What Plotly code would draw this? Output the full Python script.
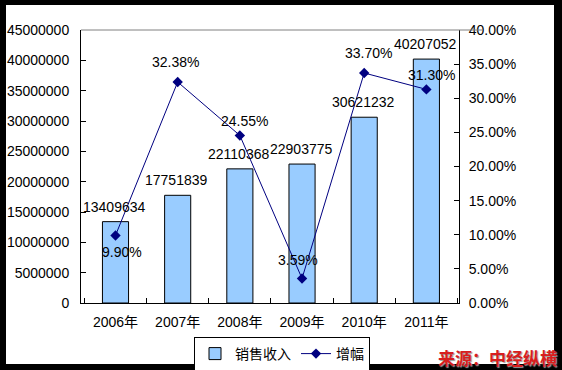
import plotly.graph_objects as go
from plotly.subplots import make_subplots

# ---- data ----
years = ["2006年", "2007年", "2008年", "2009年", "2010年", "2011年"]
revenue = [13409634, 17751839, 22110368, 22903775, 30621232, 40207052]
growth = [0.0990, 0.3238, 0.2455, 0.0359, 0.3370, 0.3130]
growth_labels = ["9.90%", "32.38%", "24.55%", "3.59%", "33.70%", "31.30%"]
revenue_name = "销售收入"
growth_name = "增幅"
source_text = "来源：中经纵横"

# ---- label offsets (style, pixels) ----
growth_label_shift = [(6, -17), (-2, 20), (5, 14), (-4, 19), (4, 20), (5, 14)]
bar_label_shift = (-1, 15)

FONT = "Arial, 'Liberation Sans', 'Noto Sans CJK SC', sans-serif"

fig = make_subplots(specs=[[{"secondary_y": True}]])

fig.add_trace(go.Bar(
    x=years, y=revenue, name=revenue_name,
    marker=dict(color="#99CCFF", line=dict(color="black", width=1)),
), secondary_y=False)

fig.add_trace(go.Scatter(
    x=years, y=growth, name=growth_name, mode="lines+markers",
    line=dict(color="#000080", width=1),
    marker=dict(symbol="diamond", size=8, color="#000080"),
), secondary_y=True)

annotations = []
for yr, v in zip(years, revenue):
    annotations.append(dict(
        x=yr, y=v, xref="x", yref="y", text=str(v), showarrow=False,
        xshift=bar_label_shift[0], yshift=bar_label_shift[1],
        font=dict(size=14, color="black", family=FONT),
    ))
for yr, g, lab, (dx, dy) in zip(years, growth, growth_labels, growth_label_shift):
    annotations.append(dict(
        x=yr, y=g, xref="x", yref="y2", text=lab, showarrow=False,
        xshift=dx, yshift=dy,
        font=dict(size=14, color="black", family=FONT),
    ))

# plot area pixel geometry
L, R, T, B = 81, 79, 30, 67
W, H = 562, 370
pw, ph = W - L - R, H - T - B

def px_x(p):
    return (p - L) / pw

def px_y(p):
    return (H - B - p) / ph

annotations.append(dict(
    x=px_x(497), y=px_y(357), xref="paper", yref="paper", text="<b>" + source_text + "</b>",
    showarrow=False, xanchor="center", yanchor="middle",
    font=dict(size=17, color="#D81E1E", family="'Noto Sans CJK SC', sans-serif",
              shadow="1px 1px 1px #999999"),
))

shapes = [
    dict(type="rect", xref="paper", yref="paper",
         x0=px_x(6), x1=px_x(554), y0=px_y(364), y1=px_y(5),
         fillcolor="white", line=dict(width=0), layer="below"),
    dict(type="line", xref="paper", yref="paper", x0=0, x1=1, y0=1, y1=1,
         line=dict(color="#808080", width=1)),
]

fig.update_layout(
    width=W, height=H,
    margin=dict(l=L, r=R, t=T, b=B, pad=0, autoexpand=False),
    paper_bgcolor="black",
    plot_bgcolor="white",
    bargap=0.58,
    font=dict(family=FONT, size=14, color="black"),
    showlegend=True,
    legend=dict(
        orientation="h", x=0.5, xanchor="center", y=px_y(337), yanchor="top",
        bgcolor="white", bordercolor="black", borderwidth=1,
        font=dict(size=14, family="'Noto Sans CJK SC', Arial, sans-serif"),
        itemwidth=30,
    ),
    annotations=annotations,
    shapes=shapes,
)

fig.update_xaxes(
    showline=True, linecolor="black", linewidth=1,
    ticks="inside", ticklen=5, tickcolor="black", tickson="boundaries",
    showgrid=False, tickfont=dict(size=14, family=FONT),
    ticklabelstandoff=6, automargin=False,
)
fig.update_yaxes(
    range=[0, 45000000], dtick=5000000, tickformat="d",
    showline=True, linecolor="black", linewidth=1,
    ticks="inside", ticklen=5, tickcolor="black",
    showgrid=False, zeroline=False, tickfont=dict(size=14, family=FONT),
    ticklabelstandoff=8, automargin=False,
    secondary_y=False,
)
fig.update_yaxes(
    range=[0, 0.40], dtick=0.05, tickformat=".2%",
    showline=True, linecolor="black", linewidth=1,
    ticks="inside", ticklen=5, tickcolor="black",
    showgrid=False, zeroline=False, tickfont=dict(size=14, family=FONT),
    ticklabelstandoff=6, automargin=False,
    secondary_y=True,
)

fig.write_html(
    "out.html",
    config={"displayModeBar": False},
    post_script="document.body.style.margin='0px';document.body.style.overflow='hidden';",
)
